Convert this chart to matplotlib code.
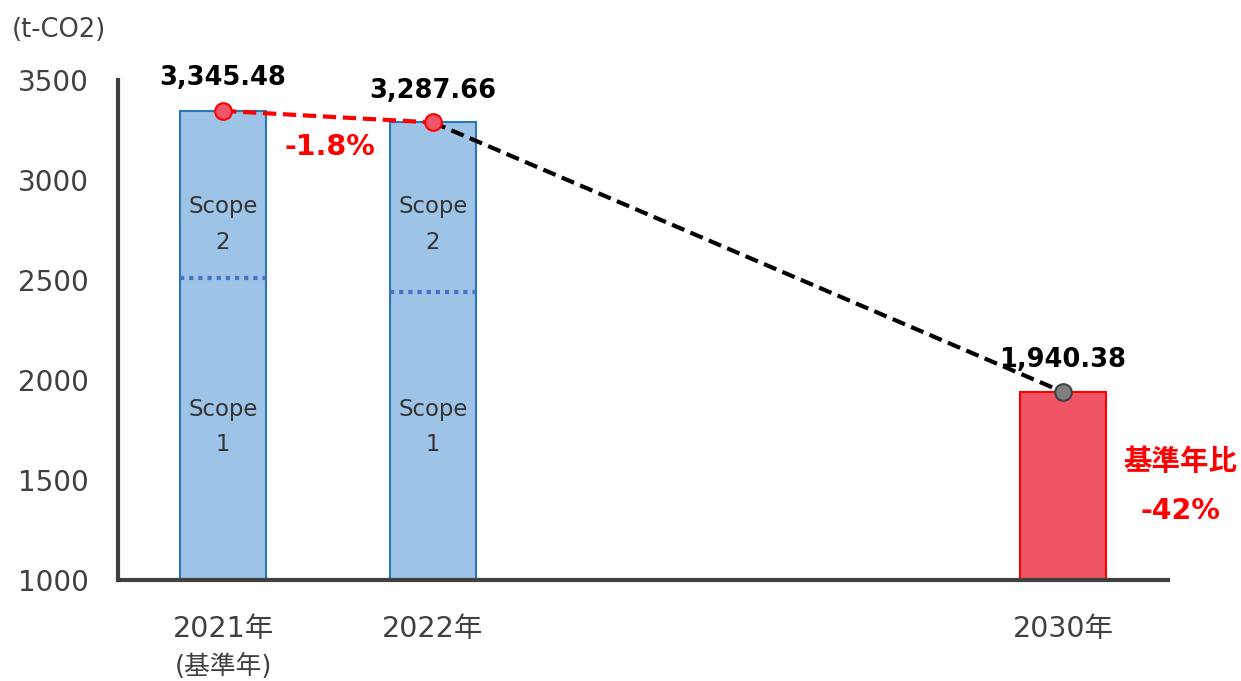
import matplotlib
matplotlib.use("Agg")
import matplotlib.pyplot as plt
from matplotlib.transforms import blended_transform_factory

plt.rcParams['font.family'] = ['DejaVu Sans', 'Noto Sans CJK JP']

# Data
years = ["2021年", "2022年", "2030年"]
positions = [0, 1, 4]
totals = [3345.48, 3287.66, 1940.38]
scope1 = [2510, 2440]          # Scope 1 / Scope 2 boundary for actual years
change_label = "-1.8%"
target_label = "-42%"
target_caption = "基準年比"
base_note = "(基準年)"
unit = "(t-CO2)"
yticks = [1000, 1500, 2000, 2500, 3000, 3500]

fig = plt.figure(figsize=(12.41, 6.81), dpi=100)
ax = fig.add_axes([118 / 1241, 1 - 580 / 681, 1050 / 1241, 500 / 681])

ax.set_xlim(-0.5, 4.5)
ax.set_ylim(1000, 3500)

bar_w = 0.405
blue_face, blue_edge = "#9DC3E6", "#2E75B6"
red_face, red_edge = "#F05565", "#FF0000"

# Actual emissions bars (Scope 1 + 2)
ax.bar(positions[:2], [t - 1000 for t in totals[:2]], bottom=1000, width=bar_w,
       color=blue_face, edgecolor=blue_edge, linewidth=1.5, zorder=2)
# Target bar
ax.bar(positions[2], totals[2] - 1000, bottom=1000, width=bar_w,
       color=red_face, edgecolor=red_edge, linewidth=1.5, zorder=2)

# Scope boundary dotted lines and labels
scope_fs = 16.4
for x, s1, tot in zip(positions[:2], scope1, totals[:2]):
    ax.plot([x - bar_w / 2, x + bar_w / 2], [s1, s1], linestyle=(0, (1, 1.2)),
            color="#4472C4", linewidth=3, zorder=3)
    ax.text(x, 2865, "Scope", ha="center", va="center", fontsize=scope_fs, color="#333333", zorder=4)
    ax.text(x, 2685, "2", ha="center", va="center", fontsize=scope_fs, color="#333333", zorder=4)
    ax.text(x, 1850, "Scope", ha="center", va="center", fontsize=scope_fs, color="#333333", zorder=4)
    ax.text(x, 1675, "1", ha="center", va="center", fontsize=scope_fs, color="#333333", zorder=4)

# Trend lines
ax.plot(positions[:2], totals[:2], linestyle=(0, (3.2, 1.6)), color="#FF0000",
        linewidth=3, zorder=5)
ax.plot(positions[1:], totals[1:], linestyle=(0, (3.2, 1.6)), color="#000000",
        linewidth=3, zorder=5)

# Markers
ax.plot(positions[:2], totals[:2], "o", markersize=12, markerfacecolor="#F25468",
        markeredgecolor="#FF0000", markeredgewidth=1.5, zorder=6, linestyle="none")
ax.plot(positions[2], totals[2], "o", markersize=12, markerfacecolor="#7F7F7F",
        markeredgecolor="#404040", markeredgewidth=1.5, zorder=6)

# Value labels
label_y = [3510, 3445, 2100]
for x, v, ly in zip(positions, totals, label_y):
    ax.text(x, ly, f"{v:,.2f}", ha="center", va="center", fontsize=18.5,
            fontweight="bold", color="#000000", zorder=7)

ax.text(0.51, 3165, change_label, ha="center", va="center", fontsize=20.5,
        fontweight="bold", color="#FF0000")
ax.text(4.56, 1590, target_caption, ha="center", va="center", fontsize=20.5,
        fontweight="bold", color="#FF0000")
ax.text(4.56, 1345, target_label, ha="center", va="center", fontsize=20.5,
        fontweight="bold", color="#FF0000")

# Axes styling
for side in ("top", "right"):
    ax.spines[side].set_visible(False)
for side in ("left", "bottom"):
    ax.spines[side].set_color("#404040")
    ax.spines[side].set_linewidth(3)
ax.spines["left"].set_zorder(8)
ax.spines["bottom"].set_zorder(8)

ax.set_yticks(yticks)
ax.set_yticklabels([str(t) for t in yticks], fontsize=20, color="#404040")
ax.tick_params(axis="y", length=0, pad=21)

ax.set_xticks(positions)
ax.set_xticklabels(years, fontsize=20.5, color="#404040")
ax.tick_params(axis="x", length=0, pad=25)

trans = blended_transform_factory(ax.transData, fig.transFigure)
ax.text(positions[0], 1 - 667 / 681, base_note, transform=trans, ha="center",
        va="center", fontsize=18.5, color="#404040")

fig.text(12 / 1241, 1 - 30 / 681, unit, ha="left", va="center", fontsize=18.5,
         color="#404040")

fig.savefig("out.png", dpi=100)
